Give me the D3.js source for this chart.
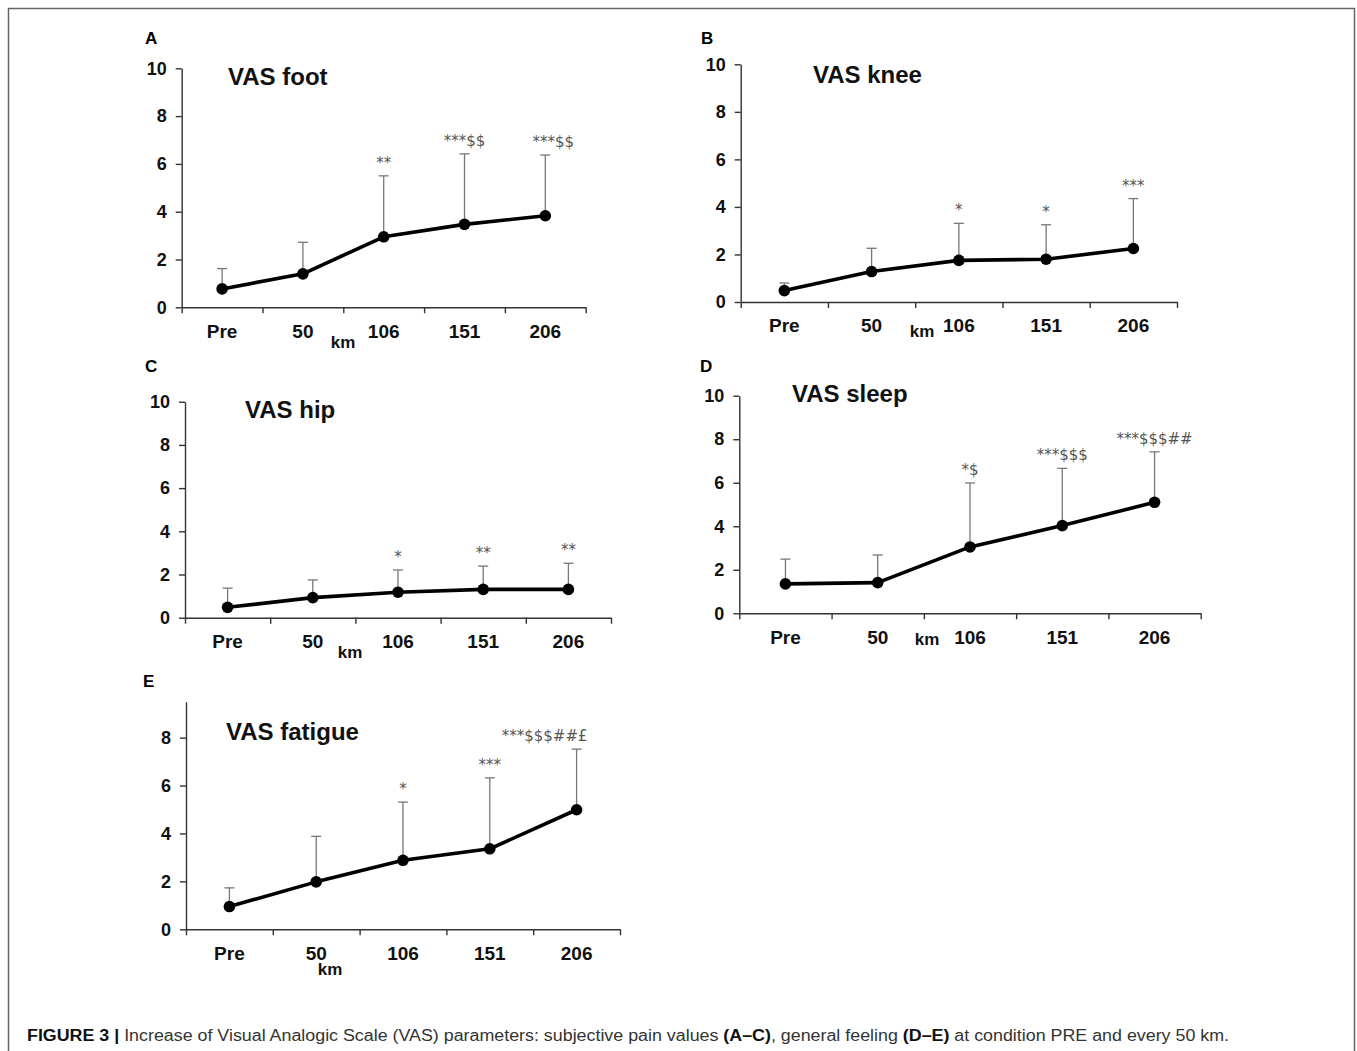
<!DOCTYPE html>
<html>
<head>
<meta charset="utf-8">
<script src="https://cdn.jsdelivr.net/npm/d3@7"></script>
<style>
  body { margin: 0; background: #fff; }
  svg { display: block; font-family: "Liberation Sans", Arial, sans-serif; }
</style>
</head>
<body>
<svg></svg>
<script>
const categories = ["Pre", "50", "106", "151", "206"]

const footMean = [0.77, 1.40, 2.95, 3.47, 3.83]
const footUpper = [1.62, 2.72, 5.50, 6.42, 6.37]
const footSig = ["", "", "**", "***$$", "***$$"]

const kneeMean = [0.48, 1.28, 1.75, 1.80, 2.25]
const kneeUpper = [0.80, 2.26, 3.31, 3.25, 4.35]
const kneeSig = ["", "", "*", "*", "***"]

const hipMean = [0.48, 0.93, 1.18, 1.31, 1.31]
const hipUpper = [1.37, 1.75, 2.21, 2.39, 2.52]
const hipSig = ["", "", "*", "**", "**"]

const sleepMean = [1.35, 1.41, 3.05, 4.03, 5.10]
const sleepUpper = [2.49, 2.68, 5.99, 6.66, 7.42]
const sleepSig = ["", "", "*$", "***$$$", "***$$$##"]

const fatigueMean = [0.95, 1.98, 2.88, 3.36, 4.99]
const fatigueUpper = [1.73, 3.88, 5.31, 6.32, 7.52]
const fatigueSig = ["", "", "*", "***", "***$$$##£"]

const titles = ["VAS foot", "VAS knee", "VAS hip", "VAS sleep", "VAS fatigue"]
const letters = ["A", "B", "C", "D", "E"]
const yTicks10 = [0, 2, 4, 6, 8, 10]
const yTicks8 = [0, 2, 4, 6, 8]

// layout of each panel (pixels)
const panels = [
  { mean: footMean, upper: footUpper, sig: footSig, ticks: yTicks10, yMax: 10,
    left: 181.7, right: 585.7, bottom: 307.3, top: 68.3,
    letter: [145, 44], title: [228, 85], km: [343, 348], lastSigDx: 8 },
  { mean: kneeMean, upper: kneeUpper, sig: kneeSig, ticks: yTicks10, yMax: 10,
    left: 740.7, right: 1177, bottom: 302, top: 64.3,
    letter: [701, 44], title: [813, 83], km: [922, 337], lastSigDx: 0 },
  { mean: hipMean, upper: hipUpper, sig: hipSig, ticks: yTicks10, yMax: 10,
    left: 185, right: 611, bottom: 617.7, top: 401.7,
    letter: [145, 372], title: [245, 418], km: [350, 658], lastSigDx: 0 },
  { mean: sleepMean, upper: sleepUpper, sig: sleepSig, ticks: yTicks10, yMax: 10,
    left: 739.3, right: 1200.7, bottom: 613.3, top: 395.7,
    letter: [700, 372], title: [792, 402], km: [927, 645], lastSigDx: 0 },
  { mean: fatigueMean, upper: fatigueUpper, sig: fatigueSig, ticks: yTicks8, yMax: 9.5,
    left: 186, right: 620, bottom: 929.3, top: 701.7,
    letter: [143, 687], title: [226, 740], km: [330, 975], lastSigDx: -32 }
]

const svg = d3.select("svg")
  .attr("width", 1357)
  .attr("height", 1051)

svg.append("rect")
  .attr("x", 8.5).attr("y", 8.5)
  .attr("width", 1346).attr("height", 1100)
  .attr("fill", "none")
  .attr("stroke", "#666")
  .attr("stroke-width", 1.5)

panels.forEach((p, i) => {
  const g = svg.append("g")

  const x = d3.scaleBand()
    .domain(categories)
    .range([p.left, p.right])
  const bounds = d3.scaleLinear()
    .domain([0, categories.length])
    .range([p.left, p.right])
  const y = d3.scaleLinear()
    .domain([0, p.yMax])
    .range([p.bottom, p.top])
  const cx = (d) => { return x(d) + x.bandwidth() / 2 }

  // y axis
  const yAxis = g.append("g")
    .attr("transform", `translate(${p.left}, 0)`)
    .call(d3.axisLeft(y).tickValues(p.ticks).tickSize(6).tickSizeOuter(0).tickPadding(9))
  yAxis.selectAll("text")
    .attr("font-size", 18).attr("font-weight", "bold").attr("fill", "#111")
    .attr("font-family", "Liberation Sans, Arial, sans-serif")

  // x axis with ticks at the category boundaries
  g.append("g")
    .attr("transform", `translate(0, ${p.bottom})`)
    .call(d3.axisBottom(bounds).tickValues(d3.range(categories.length + 1))
      .tickSize(6).tickSizeOuter(0).tickFormat(""))
  const xLabels = g.append("g")
    .attr("transform", `translate(0, ${p.bottom})`)
    .call(d3.axisBottom(x).tickSize(0).tickPadding(17))
  xLabels.select(".domain").remove()
  xLabels.selectAll("text")
    .attr("font-size", 19).attr("font-weight", "bold").attr("fill", "#111")
    .attr("font-family", "Liberation Sans, Arial, sans-serif")

  g.selectAll(".domain, .tick line")
    .attr("stroke", "#333")
    .attr("stroke-width", 1.4)

  g.append("text")
    .attr("x", p.km[0]).attr("y", p.km[1])
    .attr("text-anchor", "middle")
    .attr("font-size", 17).attr("font-weight", "bold").attr("fill", "#111")
    .text("km")

  // error bars (upper only)
  const err = g.append("g")
    .attr("stroke", "#777")
    .attr("stroke-width", 1.3)
  categories.forEach((c, j) => {
    err.append("line")
      .attr("x1", cx(c)).attr("x2", cx(c))
      .attr("y1", y(p.mean[j])).attr("y2", y(p.upper[j]))
    err.append("line")
      .attr("x1", cx(c) - 5).attr("x2", cx(c) + 5)
      .attr("y1", y(p.upper[j])).attr("y2", y(p.upper[j]))
  })

  const line = d3.line()
    .x((d, j) => { return cx(categories[j]) })
    .y((d) => { return y(d) })

  g.append("path")
    .attr("d", line(p.mean))
    .attr("fill", "none")
    .attr("stroke", "#000")
    .attr("stroke-width", 3.6)
    .attr("stroke-linejoin", "round")

  g.selectAll("circle")
    .data(p.mean)
    .enter()
    .append("circle")
    .attr("cx", (d, j) => { return cx(categories[j]) })
    .attr("cy", (d) => { return y(d) })
    .attr("r", 5.8)
    .attr("fill", "#000")

  // significance marks
  g.selectAll("text.sig")
    .data(p.sig)
    .enter()
    .append("text")
    .attr("class", "sig")
    .attr("x", (d, j) => { return cx(categories[j]) + (j === categories.length - 1 ? p.lastSigDx : 0) })
    .attr("y", (d, j) => { return y(p.upper[j]) - 8 })
    .attr("text-anchor", "middle")
    .attr("font-family", "DejaVu Sans, sans-serif")
    .attr("font-size", 15)
    .attr("fill", "#555")
    .text((d) => { return d })

  g.append("text")
    .attr("x", p.title[0]).attr("y", p.title[1])
    .attr("font-size", 24).attr("font-weight", "bold").attr("fill", "#111")
    .text(titles[i])

  g.append("text")
    .attr("x", p.letter[0]).attr("y", p.letter[1])
    .attr("font-size", 17).attr("font-weight", "bold").attr("fill", "#000")
    .text(letters[i])
})

const caption = svg.append("text")
  .attr("x", 27).attr("y", 1041)
  .attr("font-size", 16)
  .attr("fill", "#333")
  .attr("font-family", "Liberation Sans Narrow, Liberation Sans, Arial, sans-serif")
  .attr("textLength", 1202)
  .attr("lengthAdjust", "spacingAndGlyphs")
caption.append("tspan").attr("font-weight", "bold").attr("fill", "#111").text("FIGURE 3 | ")
caption.append("tspan").text("Increase of Visual Analogic Scale (VAS) parameters: subjective pain values ")
caption.append("tspan").attr("font-weight", "bold").attr("fill", "#111").text("(A–C)")
caption.append("tspan").text(", general feeling ")
caption.append("tspan").attr("font-weight", "bold").attr("fill", "#111").text("(D–E)")
caption.append("tspan").text(" at condition PRE and every 50 km.")
</script>
</body>
</html>
